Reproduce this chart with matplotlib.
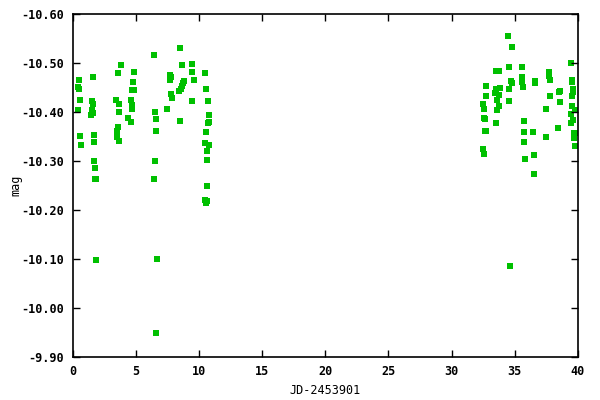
import matplotlib
matplotlib.use("Agg")
import matplotlib.pyplot as plt
import numpy as np

# JD offset and magnitude
jd = [0.54, 0.46, 0.54, 0.62, 0.46, 0.62, 0.70,
      1.65, 1.57, 1.65, 1.57, 1.65, 1.49, 1.72, 1.72, 1.72, 1.80, 1.80, 1.88, 1.88,
      3.86, 3.62, 3.46, 3.70, 3.70, 3.62, 3.54, 3.54, 3.70,
      4.89, 4.81, 4.73, 4.89, 4.65, 4.73, 4.73, 4.41, 4.65,
      6.47, 6.55, 6.63, 6.63, 6.55, 6.47, 6.71, 6.63,
      7.50, 7.73, 7.81, 7.73, 7.81, 7.89,
      8.53, 8.68, 8.84, 8.76, 8.68, 8.60, 8.45, 8.53,
      9.63, 9.47, 9.47, 9.47,
      10.50, 10.58, 10.74, 10.82, 10.74, 10.82, 10.58, 10.50, 10.82, 10.66, 10.66,
      10.66, 10.50, 10.66, 10.58,
      34.46, 34.78, 34.54, 35.57, 33.52, 33.75, 35.57, 35.57, 34.70, 34.78, 35.65,
      36.60, 36.60, 37.71, 37.71, 37.79,
      32.72, 33.83, 33.52, 34.54, 33.44, 33.75, 32.72, 33.59, 34.54, 32.49, 32.57,
      33.75, 33.59, 32.57, 32.65, 33.52, 32.65, 32.72, 32.49, 32.57,
      35.73, 35.73, 36.44, 35.73, 35.81, 36.52, 36.52,
      37.47, 37.79, 37.47, 38.42, 38.50, 38.58, 38.58,
      39.45, 39.53, 39.53, 39.61, 39.61, 39.53, 39.53, 39.77, 39.45, 39.61, 39.45,
      39.69, 39.77, 39.69, 39.77, 34.62]
mag = [-10.466, -10.451, -10.447, -10.425, -10.405, -10.352, -10.332,
       -10.472, -10.423, -10.417, -10.405, -10.397, -10.393, -10.354, -10.338, -10.300,
       -10.285, -10.263, -10.263, -10.097,
       -10.496, -10.480, -10.425, -10.417, -10.401, -10.370, -10.362, -10.350, -10.340,
       -10.482, -10.462, -10.445, -10.445, -10.425, -10.415, -10.407, -10.387, -10.379,
       -10.516, -10.399, -10.385, -10.362, -10.300, -10.263, -10.101, -9.949,
       -10.407, -10.476, -10.472, -10.466, -10.437, -10.429,
       -10.530, -10.496, -10.464, -10.460, -10.453, -10.447, -10.443, -10.381,
       -10.466, -10.498, -10.482, -10.423,
       -10.480, -10.447, -10.423, -10.393, -10.377, -10.379, -10.360, -10.336, -10.332,
       -10.320, -10.302, -10.249, -10.221, -10.219, -10.215,
       -10.555, -10.532, -10.492, -10.492, -10.484, -10.484, -10.472, -10.462, -10.464,
       -10.460, -10.451, -10.464, -10.460, -10.482, -10.474, -10.466,
       -10.453, -10.449, -10.447, -10.447, -10.439, -10.435, -10.433, -10.425, -10.423,
       -10.417, -10.407, -10.413, -10.405, -10.387, -10.385, -10.377, -10.362, -10.362,
       -10.324, -10.314,
       -10.381, -10.360, -10.360, -10.338, -10.304, -10.313, -10.273,
       -10.407, -10.433, -10.350, -10.368, -10.441, -10.443, -10.421,
       -10.500, -10.466, -10.462, -10.447, -10.441, -10.433, -10.413, -10.405, -10.395,
       -10.383, -10.377, -10.358, -10.358, -10.346, -10.330, -10.085]

x_ticks = [0, 5, 10, 15, 20, 25, 30, 35, 40]
y_ticks = [-10.60, -10.50, -10.40, -10.30, -10.20, -10.10, -10.00, -9.90]

plt.rcParams['font.family'] = 'DejaVu Sans Mono'
plt.rcParams['font.weight'] = 'bold'
plt.rcParams['font.size'] = 8.5

fig = plt.figure(figsize=(6, 4), dpi=100)
ax = fig.add_axes([0.121, 0.1075, 0.842, 0.8575])
ax.scatter(jd, mag, marker='s', s=15, color='#00c000', linewidths=0, clip_on=False)

ax.set_xlim(0, 40)
ax.set_ylim(-9.90, -10.60)
ax.set_xticks(x_ticks)
ax.set_xticklabels([str(t) for t in x_ticks])
ax.set_yticks(y_ticks)
ax.set_yticklabels(["%.2f" % v for v in y_ticks])
ax.tick_params(direction='in', length=5, width=1, top=True, right=True, pad=6)
for s in ax.spines.values():
    s.set_linewidth(1.2)

ax.set_xlabel('JD-2453901', labelpad=4)
ax.set_ylabel('mag')
ax.yaxis.set_label_coords(-0.1, 0.5)

fig.savefig('out.png', dpi=100)
